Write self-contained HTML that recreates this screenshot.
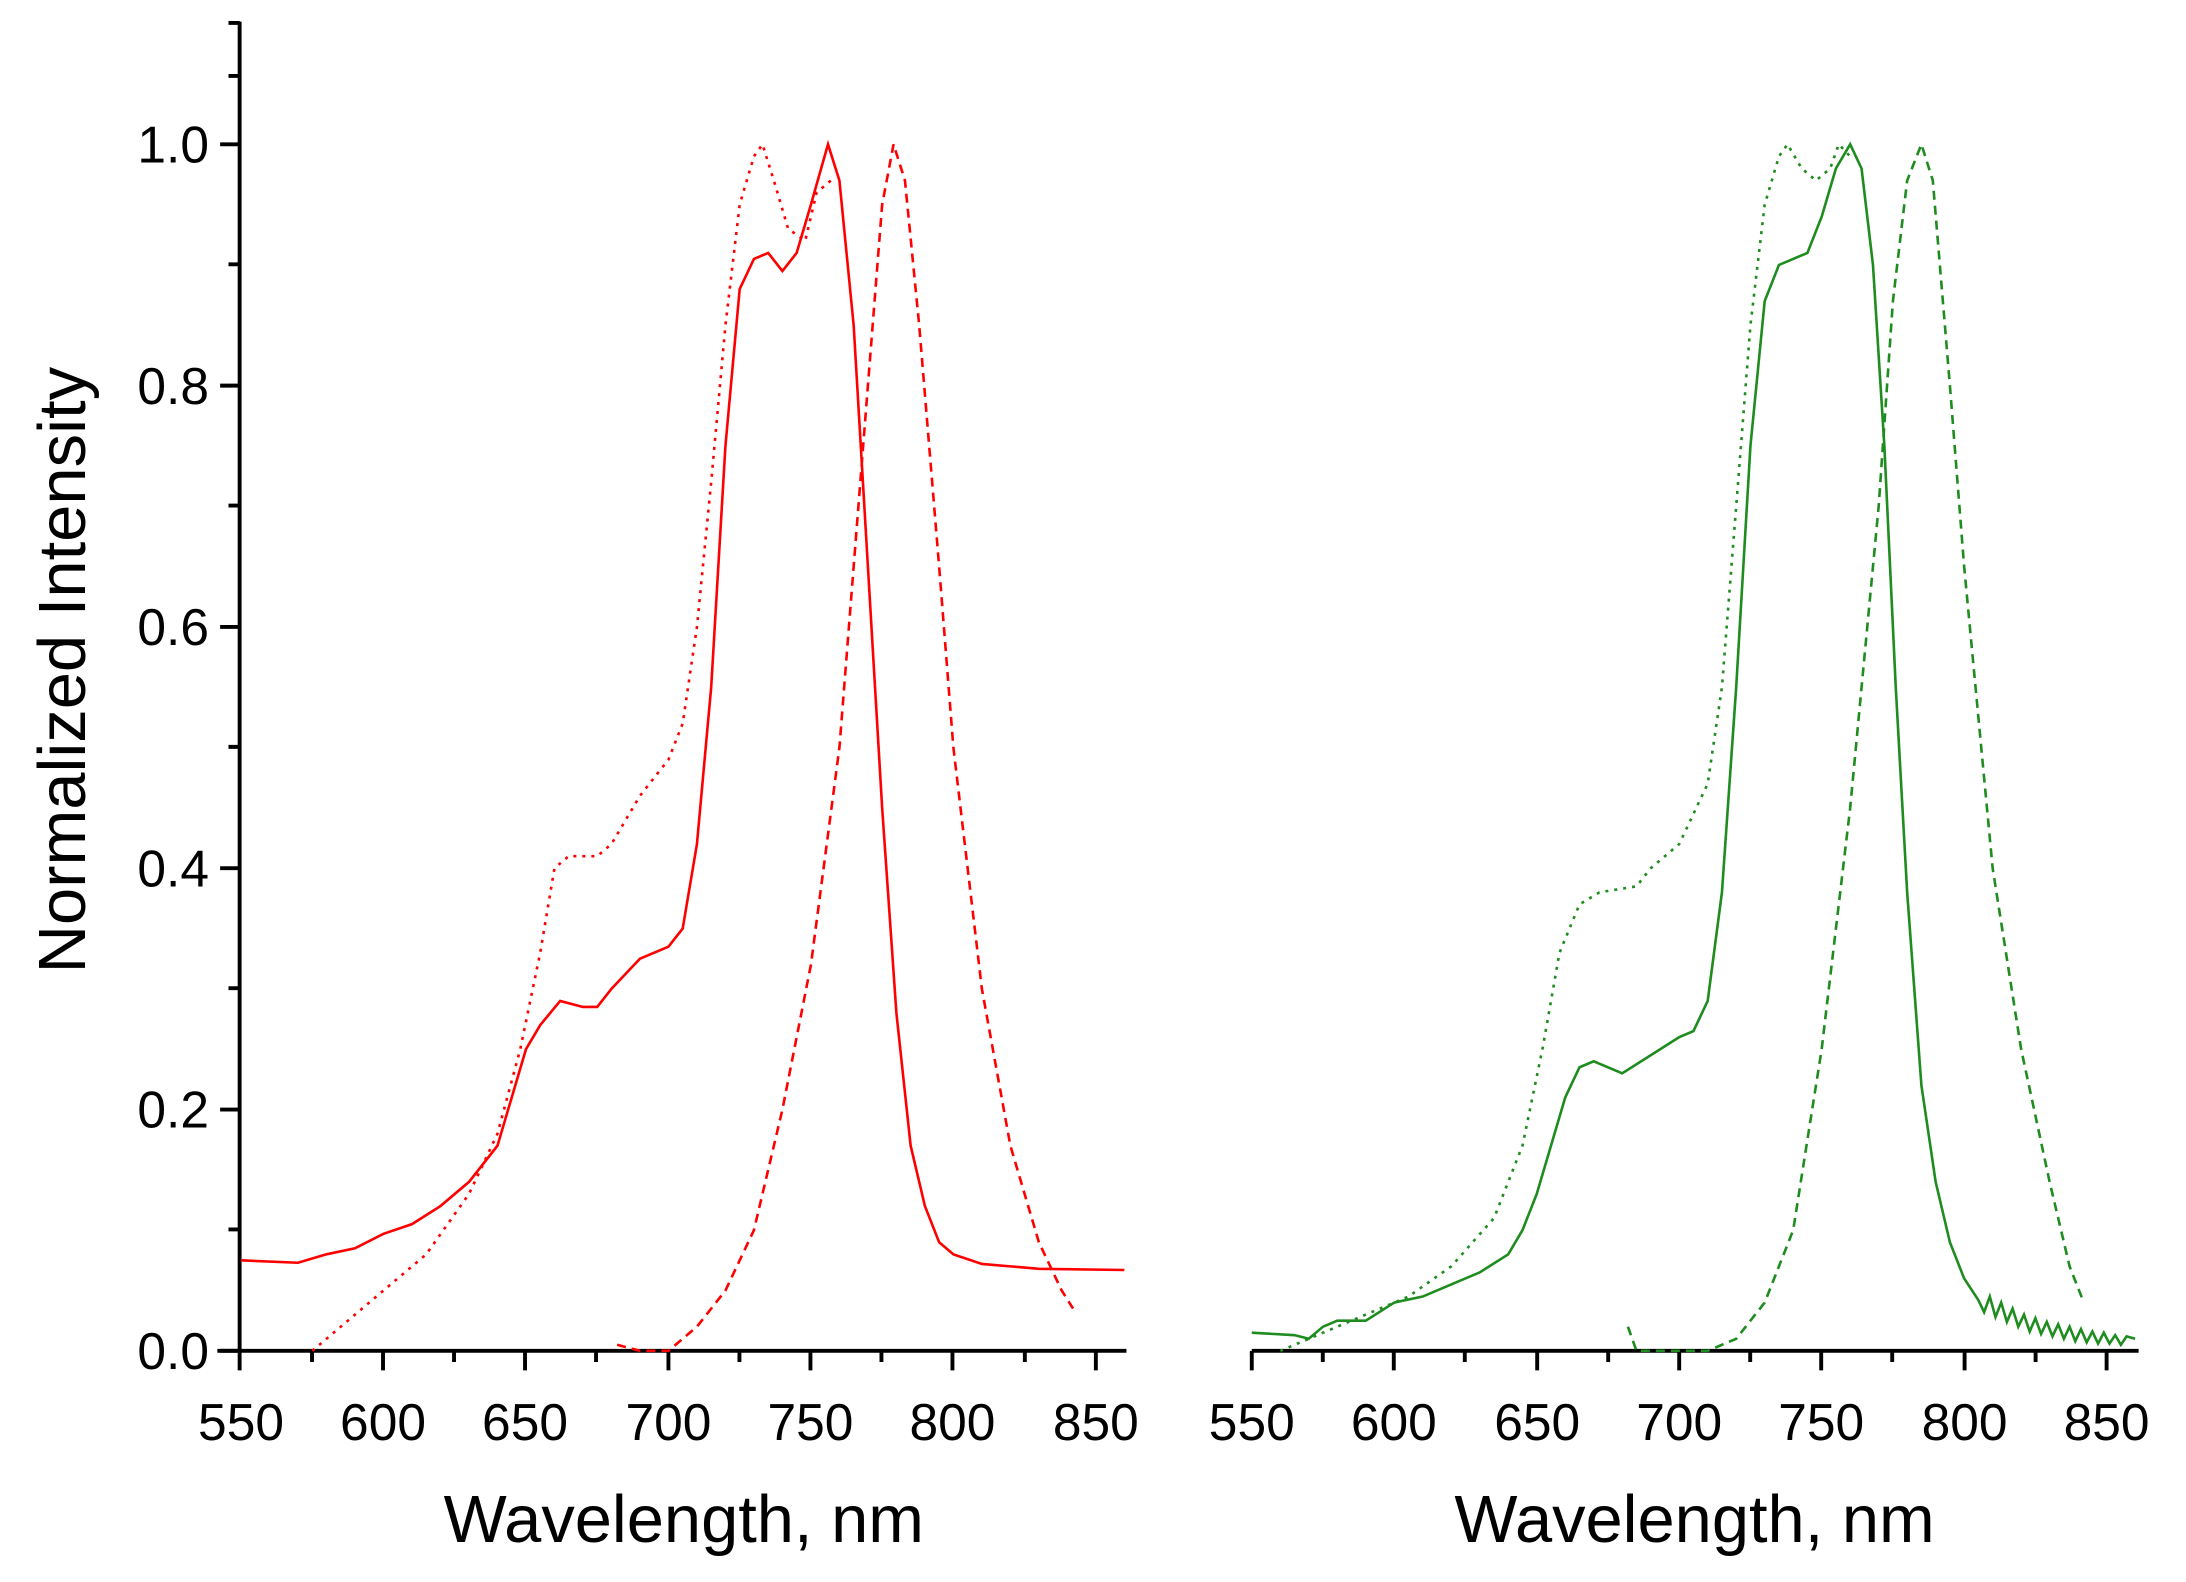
<!DOCTYPE html>
<html><head><style>html,body{margin:0;padding:0;background:#fff;}svg{display:block;}</style></head>
<body>
<svg width="2186" height="1582" viewBox="0 0 1560 1129" preserveAspectRatio="none" xmlns="http://www.w3.org/2000/svg" font-family="Liberation Sans, Arial, sans-serif">
<rect width="1560" height="1129" fill="#fff"/>
<g transform="translate(172,103) scale(0.99354,0.9954) translate(-172,-103)">
<g stroke="#000" stroke-width="2.8" fill="none">
<line x1="171" y1="15" x2="171" y2="982"/>
<line x1="155" y1="968" x2="808" y2="968"/>
<path d="M157,103H171M157,276H171M157,449H171M157,622H171M157,795H171M157,968H171M163,16H171M163,189H171M163,362H171M163,535H171M163,708H171M163,881H171M163,54H171"/>
<path d="M274,968V982M376,968V982M479,968V982M581,968V982M683,968V982M786,968V982M223,968V976M325,968V976M427,968V976M530,968V976M632,968V976M735,968V976"/>
<line x1="898" y1="968" x2="1535" y2="968"/>
<path d="M898,968V982M1000,968V982M1103,968V982M1205,968V982M1307,968V982M1410,968V982M1512,968V982M949,968V976M1051,968V976M1154,968V976M1256,968V976M1358,968V976M1461,968V976"/>
</g>
<g font-size="37" fill="#000">
<g text-anchor="end">
<text x="149" y="116">1.0</text><text x="149" y="289">0.8</text><text x="149" y="462">0.6</text><text x="149" y="635">0.4</text><text x="149" y="808">0.2</text><text x="149" y="981">0.0</text>
</g>
<g text-anchor="middle">
<text x="172" y="1032">550</text><text x="274" y="1032">600</text><text x="376" y="1032">650</text><text x="479" y="1032">700</text><text x="581" y="1032">750</text><text x="683" y="1032">800</text><text x="786" y="1032">850</text>
<text x="898" y="1032">550</text><text x="1000" y="1032">600</text><text x="1103" y="1032">650</text><text x="1205" y="1032">700</text><text x="1307" y="1032">750</text><text x="1410" y="1032">800</text><text x="1512" y="1032">850</text>
</g>
<text x="490" y="1105" font-size="48" text-anchor="middle">Wavelength, nm</text>
<text x="1216" y="1105" font-size="48" text-anchor="middle">Wavelength, nm</text>
<text transform="translate(60,480) rotate(-90)" font-size="48" text-anchor="middle">Normalized Intensity</text>
</g>
<g transform="translate(172,968) scale(2.0467,-865)" fill="none" stroke="#ff0000">
<polyline vector-effect="non-scaling-stroke" stroke-width="2.6" points="0,.075 20,.073 30,.08 40,.085 50,.097 60,.105 70,.12 80,.14 90,.17 95,.21 100,.25 105,.27 112,.29 120,.285 125,.285 130,.30 140,.325 150,.335 155,.35 160,.42 165,.55 170,.75 175,.88 180,.905 185,.91 190,.895 195,.91 200,.95 206,1.0 210,.97 215,.85 220,.65 225,.45 230,.28 235,.17 240,.12 245,.09 250,.08 260,.072 270,.07 280,.068 310,.067"/>
<polyline vector-effect="non-scaling-stroke" stroke-width="2.6" stroke-dasharray="3,6" points="25,0 35,.02 50,.05 65,.08 80,.13 90,.18 98,.25 105,.33 110,.4 115,.41 125,.41 130,.42 140,.46 150,.49 155,.52 160,.6 165,.72 170,.85 175,.95 180,.99 183,1.0 187,.97 192,.93 198,.92 202,.96 207,.97"/>
<polyline vector-effect="non-scaling-stroke" stroke-width="2.6" stroke-dasharray="9,6" points="132,.005 140,0 150,0 160,.02 170,.05 180,.1 190,.2 200,.32 210,.5 215,.65 220,.8 225,.95 229,1.0 233,.97 238,.85 245,.65 250,.5 260,.3 270,.17 280,.09 288,.05 292,.035"/>
</g>
<g transform="translate(898,968) scale(2.0467,-865)" fill="none" stroke="#1e8c1e">
<polyline vector-effect="non-scaling-stroke" stroke-width="2.6" points="0,.015 15,.013 20,.01 25,.02 30,.025 40,.025 50,.04 60,.045 70,.055 80,.065 90,.08 95,.1 100,.13 105,.17 110,.21 115,.235 120,.24 125,.235 130,.23 140,.245 150,.26 155,.265 160,.29 165,.38 170,.55 175,.75 180,.87 185,.9 190,.905 195,.91 200,.94 205,.98 210,1.0 214,.98 218,.9 222,.75 226,.55 230,.38 235,.22 240,.14 245,.09 250,.06 255,.042 257,.032 259,.045 261,.028 263,.04 265,.024 267,.035 269,.02 271,.03 273,.016 275,.027 277,.014 279,.024 281,.012 283,.022 285,.01 287,.02 289,.008 291,.018 293,.007 295,.016 297,.006 299,.015 301,.006 303,.013 305,.005 307,.012 310,.01"/>
<polyline vector-effect="non-scaling-stroke" stroke-width="2.6" stroke-dasharray="3,6" points="10,0 25,.015 40,.03 55,.045 70,.07 85,.11 95,.17 102,.25 108,.33 115,.37 122,.38 135,.385 140,.4 150,.42 160,.47 165,.55 170,.7 175,.85 180,.95 185,.99 188,1.0 193,.98 198,.97 203,.98 206,1.0 210,.99"/>
<polyline vector-effect="non-scaling-stroke" stroke-width="2.6" stroke-dasharray="9,6" points="132,.02 135,0 140,0 160,0 170,.01 180,.04 190,.1 200,.25 210,.45 220,.7 225,.87 230,.97 235,1.0 239,.97 245,.8 250,.65 260,.4 270,.25 280,.14 287,.07 292,.04"/>
</g>
</g>
</svg>
</body></html>
